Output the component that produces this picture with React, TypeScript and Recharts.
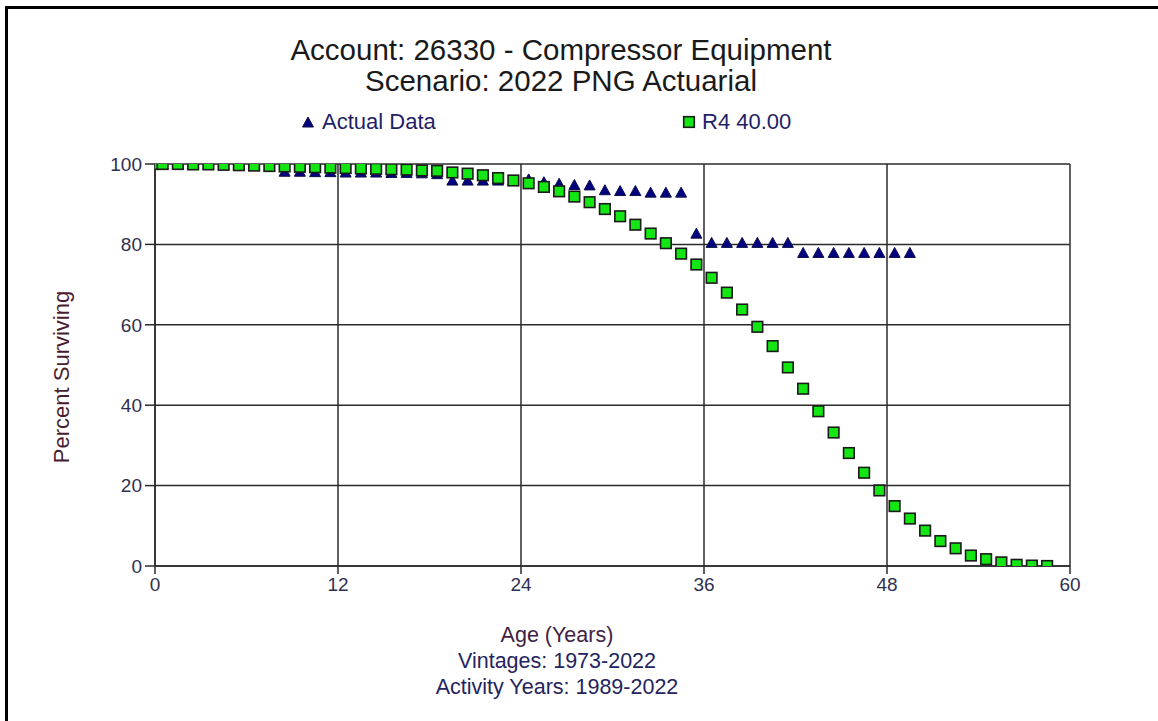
import { CartesianGrid, Scatter, ScatterChart, XAxis, YAxis } from "recharts";

// Ages (years) where the life table is sampled
const actualAges = [
  0, 0.5, 1.5, 2.5, 3.5, 4.5, 5.5, 6.5, 7.5, 8.5, 9.5, 10.5, 11.5, 12.5, 13.5,
  14.5, 15.5, 16.5, 17.5, 18.5, 19.5, 20.5, 21.5, 22.5, 23.5, 24.5, 25.5, 26.5,
  27.5, 28.5, 29.5, 30.5, 31.5, 32.5, 33.5, 34.5, 35.5, 36.5, 37.5, 38.5, 39.5,
  40.5, 41.5, 42.5, 43.5, 44.5, 45.5, 46.5, 47.5, 48.5, 49.5,
];
const actualPct = [
  100, 100, 100, 100, 100, 99.9, 99.8, 99.7, 99.6, 98.2, 98.2, 98.1, 98.1, 98.0,
  98.0, 98.0, 97.9, 97.9, 97.8, 97.6, 96.0, 96.0, 96.0, 96.0, 96.0, 96.3, 95.6,
  95.2, 94.9, 94.8, 93.6, 93.4, 93.4, 93.0, 93.0, 93.0, 82.8, 80.5, 80.5, 80.5,
  80.5, 80.5, 80.5, 78.0, 78.0, 78.0, 78.0, 78.0, 78.0, 78.0, 78.0,
];

const curveAges = [
  0, 0.5, 1.5, 2.5, 3.5, 4.5, 5.5, 6.5, 7.5, 8.5, 9.5, 10.5, 11.5, 12.5, 13.5,
  14.5, 15.5, 16.5, 17.5, 18.5, 19.5, 20.5, 21.5, 22.5, 23.5, 24.5, 25.5, 26.5,
  27.5, 28.5, 29.5, 30.5, 31.5, 32.5, 33.5, 34.5, 35.5, 36.5, 37.5, 38.5, 39.5,
  40.5, 41.5, 42.5, 43.5, 44.5, 45.5, 46.5, 47.5, 48.5, 49.5, 50.5, 51.5, 52.5,
  53.5, 54.5, 55.5, 56.5, 57.5, 58.5,
];
const curvePct = [
  100, 100, 100, 99.9, 99.9, 99.8, 99.7, 99.6, 99.5, 99.4, 99.3, 99.2, 99.1,
  99.0, 98.9, 98.8, 98.7, 98.6, 98.4, 98.3, 97.9, 97.6, 97.2, 96.5, 95.9, 95.2,
  94.3, 93.2, 91.9, 90.5, 88.8, 87.0, 84.9, 82.7, 80.3, 77.7, 75.0, 71.7, 68.0,
  63.8, 59.5, 54.7, 49.4, 44.1, 38.5, 33.2, 28.1, 23.2, 18.8, 14.9, 11.8, 8.8,
  6.2, 4.4, 2.6, 1.7, 0.9, 0.3, 0.1, 0,
];

const xTicks = [0, 12, 24, 36, 48, 60];
const yTicks = [0, 20, 40, 60, 80, 100];

const actualData = actualAges.map((age, i) => ({ age, pct: actualPct[i] }));
const curveData = curveAges.map((age, i) => ({ age, pct: curvePct[i] }));

const FONT = '"Liberation Sans", Arial, sans-serif';
const GRID = "#2b2b2b";

function Triangle({ cx, cy }: { cx?: number; cy?: number }) {
  if (cx == null || cy == null) return null;
  const w = 5.5;
  const h = 5;
  return (
    <path
      d={`M${cx},${cy - h} L${cx + w},${cy + h} L${cx - w},${cy + h} Z`}
      fill="#000080"
      stroke="#10104a"
      strokeWidth={1}
    />
  );
}

function Square({ cx, cy }: { cx?: number; cy?: number }) {
  if (cx == null || cy == null) return null;
  const s = 5.3;
  return (
    <rect
      x={cx - s}
      y={cy - s}
      width={s * 2}
      height={s * 2}
      fill="#14e614"
      stroke="#1a1a1a"
      strokeWidth={1.6}
    />
  );
}

export default function App() {
  return (
    <div
      style={{
        position: "absolute",
        left: 0,
        top: 0,
        width: 1158,
        height: 721,
        background: "#fff",
        fontFamily: FONT,
        overflow: "hidden",
      }}
    >
      <div
        style={{
          position: "absolute",
          left: 5,
          top: 6,
          width: 1200,
          height: 800,
          borderLeft: "3px solid #000",
          borderTop: "3px solid #000",
        }}
      />

      <div style={{ position: "absolute", left: 561, top: 34, transform: "translateX(-50%)", whiteSpace: "nowrap", textAlign: "center", fontSize: 29.5, lineHeight: "31px", color: "#1a1a1a" }}>
        <div>Account: 26330 - Compressor Equipment</div>
        <div>Scenario: 2022 PNG Actuarial</div>
      </div>

      {/* legend */}
      <svg style={{ position: "absolute", left: 0, top: 0 }} width={1158} height={140}>
        <Triangle cx={308} cy={122} />
        <Square cx={689} cy={122} />
      </svg>
      <div style={{ position: "absolute", left: 322, top: 109, fontSize: 22, color: "#1f1f66", whiteSpace: "nowrap" }}>
        Actual Data
      </div>
      <div style={{ position: "absolute", left: 702, top: 109, fontSize: 22, color: "#1f1f66", whiteSpace: "nowrap" }}>
        R4 40.00
      </div>

      <div style={{ position: "absolute", left: 0, top: 0 }}>
        <ScatterChart
          width={1158}
          height={721}
          margin={{ top: 164, right: 88, bottom: 115, left: 95 }}
        >
          <CartesianGrid
            stroke={GRID}
            strokeWidth={1.5}
            horizontalValues={yTicks}
            verticalValues={xTicks}
          />
          <XAxis
            type="number"
            dataKey="age"
            domain={[0, 60]}
            ticks={xTicks}
            height={40}
            tickSize={8}
            tickMargin={4}
            axisLine={{ stroke: GRID, strokeWidth: 1.5 }}
            tickLine={{ stroke: GRID, strokeWidth: 1.5 }}
            tick={{ fill: "#30304f", fontSize: 19, fontFamily: FONT }}
            allowDataOverflow
          />
          <YAxis
            type="number"
            dataKey="pct"
            domain={[0, 100]}
            ticks={yTicks}
            width={60}
            tickSize={10}
            tickMargin={3}
            axisLine={{ stroke: GRID, strokeWidth: 1.5 }}
            tickLine={{ stroke: GRID, strokeWidth: 1.5 }}
            tick={{ fill: "#30304f", fontSize: 19, fontFamily: FONT }}
            allowDataOverflow
          />
          <Scatter
            name="Actual Data"
            data={actualData}
            shape={(p: any) => <Triangle cx={p.cx} cy={p.cy} />}
            isAnimationActive={false}
          />
          <Scatter
            name="R4 40.00"
            data={curveData}
            shape={(p: any) => <Square cx={p.cx} cy={p.cy} />}
            isAnimationActive={false}
          />
        </ScatterChart>
      </div>

      <div
        style={{
          position: "absolute",
          left: 62,
          top: 377,
          transform: "translate(-50%, -50%) rotate(-90deg)",
          fontSize: 22,
          color: "#4a1c30",
          whiteSpace: "nowrap",
        }}
      >
        Percent Surviving
      </div>

      <div style={{ position: "absolute", left: 557, top: 622, transform: "translateX(-50%)", textAlign: "center", whiteSpace: "nowrap", fontSize: 21.5, lineHeight: "26px" }}>
        <div style={{ color: "#3e2244" }}>Age (Years)</div>
        <div style={{ color: "#24245e" }}>Vintages: 1973-2022</div>
        <div style={{ color: "#24245e" }}>Activity Years: 1989-2022</div>
      </div>
    </div>
  );
}
